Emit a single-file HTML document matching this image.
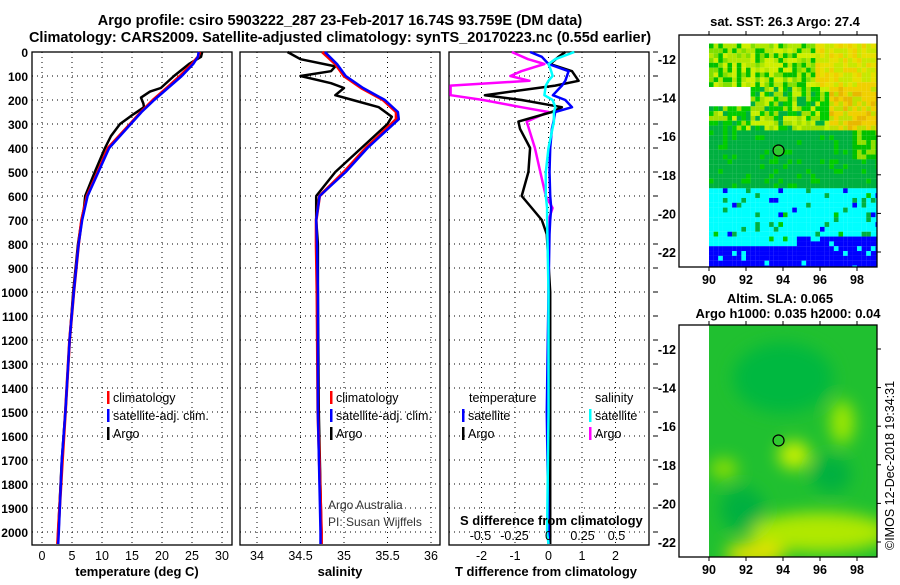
<!DOCTYPE html>
<html><head><meta charset="utf-8"><style>
body{margin:0;background:#fff}
svg text{font-family:"Liberation Sans",sans-serif}
.b{font-weight:bold}
</style></head><body>
<svg id="c" width="900" height="580" xmlns="http://www.w3.org/2000/svg">
<text class="b" x="340" y="25" text-anchor="middle" font-size="14.5">Argo profile: csiro 5903222_287 23-Feb-2017 16.74S 93.759E (DM data)</text>
<text class="b" x="340" y="42" text-anchor="middle" font-size="14.5">Climatology: CARS2009. Satellite-adjusted climatology: synTS_20170223.nc (0.55d earlier)</text>
<g id="maps"></g>
<g id="panels"></g>
</svg>
<script>
// ---- data ----
const depthTicks=[0,100,200,300,400,500,600,700,800,900,1000,1100,1200,1300,1400,1500,1600,1700,1800,1900,2000];
const tTicks=[0,5,10,15,20,25,30];
const sTicks=[34,34.5,35,35.5,36];
const sTickLabels=["34","34.5","35","35.5","36"];
const dTTicks=[-2,-1,0,1,2];
const dSTicks=[-0.5,-0.25,0,0.25,0.5];
const dSTickLabels=["-0.5","-0.25","0","0.25","0.5"];
const argoTDepth=[0,20,50,100,150,165,190,215,230,260,300,350,400,500,600,650,700,800,1000,1200,1500,1700,2000,2050];
const argoT=[26.7,26.5,24.5,22,19.8,18,16.5,16.9,17,15.2,13,11.5,10.5,8.8,7.2,7.0,6.6,6.0,5.2,4.6,3.9,3.3,2.7,2.6];
const climTDepth=[0,20,50,100,150,200,250,300,400,500,600,700,800,1000,1200,1500,1700,2000,2050];
const climT=[26.3,26,25,23,20.8,18.5,16.5,14.7,11,9.3,7.5,6.6,6.1,5.3,4.6,3.9,3.4,2.7,2.6];
const satT=[26.1,26,25.2,23.3,21,18.7,16.6,14.8,11.2,9.4,7.6,6.7,6.1,5.3,4.6,3.9,3.3,2.8,2.7];
const argoSDepth=[0,30,60,80,100,130,150,180,200,230,270,300,400,500,600,700,800,1000,1500,2000,2050];
const argoS=[34.35,34.5,34.9,34.85,34.5,34.85,35.0,34.9,35.1,35.4,35.55,35.5,35.2,34.9,34.68,34.68,34.7,34.7,34.71,34.74,34.74];
const climSDepth=[0,50,100,150,200,250,280,350,400,500,600,700,800,1000,1500,2000,2050];
const climS=[34.75,34.9,35.0,35.2,35.45,35.6,35.6,35.4,35.25,35.0,34.72,34.68,34.68,34.69,34.7,34.74,34.74];
const satS=[34.78,34.92,35.02,35.22,35.47,35.62,35.63,35.42,35.27,35.02,34.72,34.68,34.69,34.7,34.7,34.73,34.73];
const dTDepth=[0,20,50,80,120,140,180,200,230,250,290,320,400,500,600,650,700,760,1000,1500,2000,2050];
const dTArgo=[0.5,0.3,0.05,0.7,0.9,0.2,-1.9,-0.8,0.4,0.1,-0.9,-0.85,-0.55,-0.6,-0.8,-0.5,-0.2,-0.05,0.05,0.05,0.05,0.05];
const dTSat=[-0.55,-0.2,0.0,0.6,0.5,0.4,0.13,0.5,0.7,0.2,0.15,0.1,0.05,0.03,0.05,0.08,0.05,0.03,0.0,-0.05,0.0,0.0];
const dSDepth=[0,30,50,80,100,120,140,180,200,230,250,290,400,500,600,650,700,1000,1500,2000,2050];
const dSArgo=[-0.27,-0.15,-0.03,-0.2,-0.28,-0.14,-0.72,-0.72,-0.48,-0.2,0.0,-0.16,-0.1,-0.06,-0.02,0.03,0.0,0.0,0.0,0.0,0.0];
const dSSat=[0.19,0.05,0.0,0.02,0.03,0.0,-0.02,-0.03,0.03,0.05,0.04,0.04,0.0,-0.02,-0.02,-0.01,-0.01,0.0,0.0,-0.01,0.0];
const latTicks=[-12,-14,-16,-18,-20,-22];
const lonTicks=[90,92,94,96,98];

const NS="http://www.w3.org/2000/svg";
function mk(tag,attrs,parent,txt){const e=document.createElementNS(NS,tag);for(const k in attrs)e.setAttribute(k,attrs[k]);if(txt!==undefined)e.textContent=txt;parent.appendChild(e);return e;}
const P=document.getElementById('panels');
const yD=d=>52+d*0.24;
const panels=[
 {name:'temperature',x0:32,x1:232,fx:v=>42+6*v},
 {name:'salinity',x0:240,x1:440,fx:v=>257+87*(v-34)},
 {name:'difference',x0:449,x1:649,fx:v=>548.5+33.5*v,fs:v=>548.5+136*v}
];
panels.forEach((p,i)=>{
 const g=mk('g',{},P);
 
 
 depthTicks.forEach(d=>{
  const l=mk('line',{x1:p.x0,x2:p.x1,y1:yD(d),y2:yD(d),stroke:'#000','stroke-dasharray':'1 4','stroke-width':1},g);
  
  if(i===0){const t=mk('text',{x:28,y:yD(d)+5,'text-anchor':'end','font-size':12,class:'b'},g,String(d));
   }
  if(i===2){mk('line',{x1:653,x2:658,y1:yD(d),y2:yD(d),stroke:'#000'},g);}
 });
 let ticks,labels;
 if(i===0){ticks=tTicks;labels=tTicks.map(String);}
 else if(i===1){ticks=sTicks;labels=sTickLabels;}
 else {ticks=dTTicks;labels=dTTicks.map(String);}
 ticks.forEach((v,k)=>{
  const x=p.fx(v);
  const l=mk('line',{x1:x,x2:x,y1:52,y2:545,stroke:'#000','stroke-dasharray':'1 4'},g);
  
  const t=mk('text',{x:x,y:560,'text-anchor':'middle','font-size':12.5},g,labels[k]);
  
 });
 const fr=mk('rect',{x:p.x0,y:52,width:p.x1-p.x0,height:493,fill:'none',stroke:'#000','stroke-width':1.3},g);
 
});
function line(xs,ds,fx,col,w,name){
 const pts=xs.map((v,k)=>fx(v).toFixed(1)+','+yD(ds[k]).toFixed(1)).join(' ');
 const e=mk('polyline',{points:pts,fill:'none',stroke:col,'stroke-width':w,'stroke-linejoin':'round'},P);
 
}
const p0=panels[0],p1=panels[1],p2=panels[2];
line(argoT,argoTDepth,p0.fx,'#000',2.5,'argo-temperature-line');
line(climT,climTDepth,p0.fx,'#f00',3,'clim-temperature-line');
line(satT,climTDepth,p0.fx,'#00f',2.5,'sat-temperature-line');
line(argoS,argoSDepth,p1.fx,'#000',2.5,'argo-salinity-line');
line(climS,climSDepth,p1.fx,'#f00',3,'clim-salinity-line');
line(satS,climSDepth,p1.fx,'#00f',2.5,'sat-salinity-line');
line(dSArgo,dSDepth,p2.fs,'#f0f',2.5,'argo-salinity-diff-line');
line(dTArgo,dTDepth,p2.fx,'#000',2.5,'argo-temperature-diff-line');
line(dTSat,dTDepth,p2.fx,'#00f',2.5,'sat-temperature-diff-line');
line(dSSat,dSDepth,p2.fs,'#0ff',2.5,'sat-salinity-diff-line');
dSTicks.forEach((v,k)=>{const t=mk('text',{x:p2.fs(v),y:540,'text-anchor':'middle','font-size':12.5},P,dSTickLabels[k]);
 });
function txt(x,y,s,name,opts){const o=Object.assign({x:x,y:y,'font-size':12.5},opts||{});const t=mk('text',o,P,s);return t;}
txt(460,525,'S difference from climatology','s-diff-axis-title',{'font-size':13,class:'b'});
txt(137,576,'temperature (deg C)','temperature-axis-title',{'text-anchor':'middle','font-size':13,class:'b'});
txt(340,576,'salinity','salinity-axis-title',{'text-anchor':'middle','font-size':13,class:'b'});
txt(546,576,'T difference from climatology','t-diff-axis-title',{'text-anchor':'middle','font-size':13,class:'b'});
txt(328,509,'Argo Australia','credit-text',{'font-size':12,fill:'#333'});
txt(328,526,'PI: Susan Wijffels','pi-text',{'font-size':12,fill:'#333'});
function leg(x,y,col,s,name){const r=mk('rect',{x:x,y:y-11,width:2.5,height:13,fill:col},P);txt(x+6,y,s,name);}
[107,330].forEach(x=>{leg(x,402,'#f00','climatology','legend-climatology');leg(x,420,'#00f','satellite-adj. clim.','legend-satellite-adj');leg(x,438,'#000','Argo','legend-argo');});
txt(469,402,'temperature','legend-temperature-heading');
txt(595,402,'salinity','legend-salinity-heading');
leg(462,420,'#00f','satellite','legend-t-satellite');leg(462,438,'#000','Argo','legend-t-argo');
leg(589,420,'#0ff','satellite','legend-s-satellite');leg(589,438,'#f0f','Argo','legend-s-argo');

// ---- maps ----
const M=document.getElementById('maps');
const lonX=l=>709+18.5*(l-90);
function latY(top){return lat=>top+24+19.3*(-12-lat);}
function h(i,j){let x=(i*374761393+j*668265263)|0;x=(x^(x>>>13))*1274126177|0;x=x^(x>>>16);return (x>>>0)%100;}
function sstColor(lon,lat,i,j){
 const r=h(i,j);
 const wob=(h(j,99)%3-1)*0.25;
 if(lat<-21.6+(lon>94.6?0.6:0)+wob) return r<8?'#00ffff':'#0000ff';
 if(lat<-18.2+(lon>95?-0.3:0)+wob){ if(r<6) return '#00b040'; if(r<9) return '#0000ff'; if(r<11) return '#00cc00'; return '#00ffff';}
 if(lat<-15.9+wob){ if(lon>97.5&&lat>-17) return r<40?'#90e000':'#00c000'; return r<12?'#00cc00':'#00b040';}
 if(lon<92.2&&lat>-14.4&&lat<-13.3) return '#ffffff';
 if(lon>96.3&&lat>-16&&lat<-13.2){return r<25?'#c0e000':(r<75?'#f0d000':'#e8b800');}
 if(lat<-13.4){ if(lon<91.5&&lat<-15) return r<60?'#00b040':'#00cc00'; return r<30?'#a0e000':(r<60?'#00cc00':(r<80?'#00b040':'#c8f000'));}
 if(lon>95.5) return r<40?'#c8e800':(r<70?'#e8e000':'#f0d000');
 return r<30?'#00c000':(r<55?'#b0e800':(r<75?'#d0f000':'#80e000'));
}
function frame(top,name){
 const ly=latY(top);
 const g=mk('g',{},M);
 return {g,ly};
}
(function(){
 const {g,ly}=frame(35,'sst-map');
 for(let i=0;i<37;i++)for(let j=0;j<48;j++){
  const lon=90+i*0.25,lat=-11.2-j*0.25;
  const x=lonX(lon),y=ly(lat);
  if(x>876||y>266) continue;
  mk('rect',{x:x,y:Math.max(y,35),width:Math.min(4.7,877-x),height:Math.min(4.9,267-Math.max(y,35)),fill:sstColor(lon,lat,i,j)},g);
 }
 axes(g,ly,35);
 txt(785,26,'sat. SST: 26.3 Argo: 27.4','sst-map-title',{'text-anchor':'middle','font-size':13,class:'b'});
})();
(function(){
 const {g,ly}=frame(325,'sla-map');
 const d=mk('defs',{},g);const f=mk('filter',{id:'bl',x:'-50%',y:'-50%',width:'200%',height:'200%'},d);mk('feGaussianBlur',{stdDeviation:8},f);
 const cp=mk('clipPath',{id:'cp'},d);mk('rect',{x:709,y:325,width:168,height:232},cp);
 const c=mk('g',{'clip-path':'url(#cp)'},g);
 mk('rect',{x:709,y:325,width:168,height:232,fill:'#20c030'},c);
 const b=mk('g',{filter:'url(#bl)'},c);
 mk('ellipse',{cx:lonX(94),cy:ly(-13.5),rx:50,ry:35,fill:'#00b840'},b);
 mk('ellipse',{cx:lonX(94.6),cy:ly(-17.5),rx:16,ry:14,fill:'#c8f000'},b);
 mk('ellipse',{cx:lonX(97.2),cy:ly(-15.8),rx:12,ry:22,fill:'#a0e800'},b);
 mk('ellipse',{cx:lonX(96),cy:ly(-21.5),rx:70,ry:20,fill:'#b0e800'},b);
 mk('ellipse',{cx:lonX(92.5),cy:ly(-22.6),rx:30,ry:12,fill:'#e0e000'},b);
 mk('ellipse',{cx:lonX(91.8),cy:ly(-20.3),rx:22,ry:22,fill:'#00b040'},b);
 mk('ellipse',{cx:lonX(96.6),cy:ly(-18.5),rx:20,ry:18,fill:'#00b040'},b);
 mk('ellipse',{cx:lonX(90.8),cy:ly(-18.2),rx:14,ry:10,fill:'#90e000'},b);
 axes(g,ly,325);
 txt(780,303,'Altim. SLA: 0.065','sla-map-title',{'text-anchor':'middle','font-size':13,class:'b'});
 txt(788,318,'Argo h1000: 0.035 h2000: 0.04','sla-map-subtitle',{'text-anchor':'middle','font-size':13,class:'b'});
})();
function axes(g,ly,top){
 const fr=mk('rect',{x:679,y:top,width:198,height:232,fill:'none',stroke:'#000','stroke-width':1.3},g);
 
 lonTicks.forEach(v=>{const x=lonX(v);mk('line',{x1:x,x2:x,y1:top,y2:top-4,stroke:'#000'},g);mk('line',{x1:x,x2:x,y1:top+232,y2:top+236,stroke:'#000'},g);
  txt(x,top+249,String(v),'lon-tick-label',{'text-anchor':'middle','font-size':12.5,class:'b'});});
 latTicks.forEach(v=>{const y=ly(v);mk('line',{x1:877,x2:881,y1:y,y2:y,stroke:'#000'},g);
  txt(676,y+5,String(v),'lat-tick-label',{'text-anchor':'end','font-size':12.5,class:'b'});});
 const c=mk('circle',{cx:lonX(93.759),cy:ly(-16.74),r:5.5,fill:'#30c830',stroke:'#000','stroke-width':1.2},g);
 
}
txt(0,0,'©IMOS 12-Dec-2018 19:34:31','imos-credit',{'font-size':12.5,transform:'translate(894,550) rotate(-90)'});
</script>
</body></html>
